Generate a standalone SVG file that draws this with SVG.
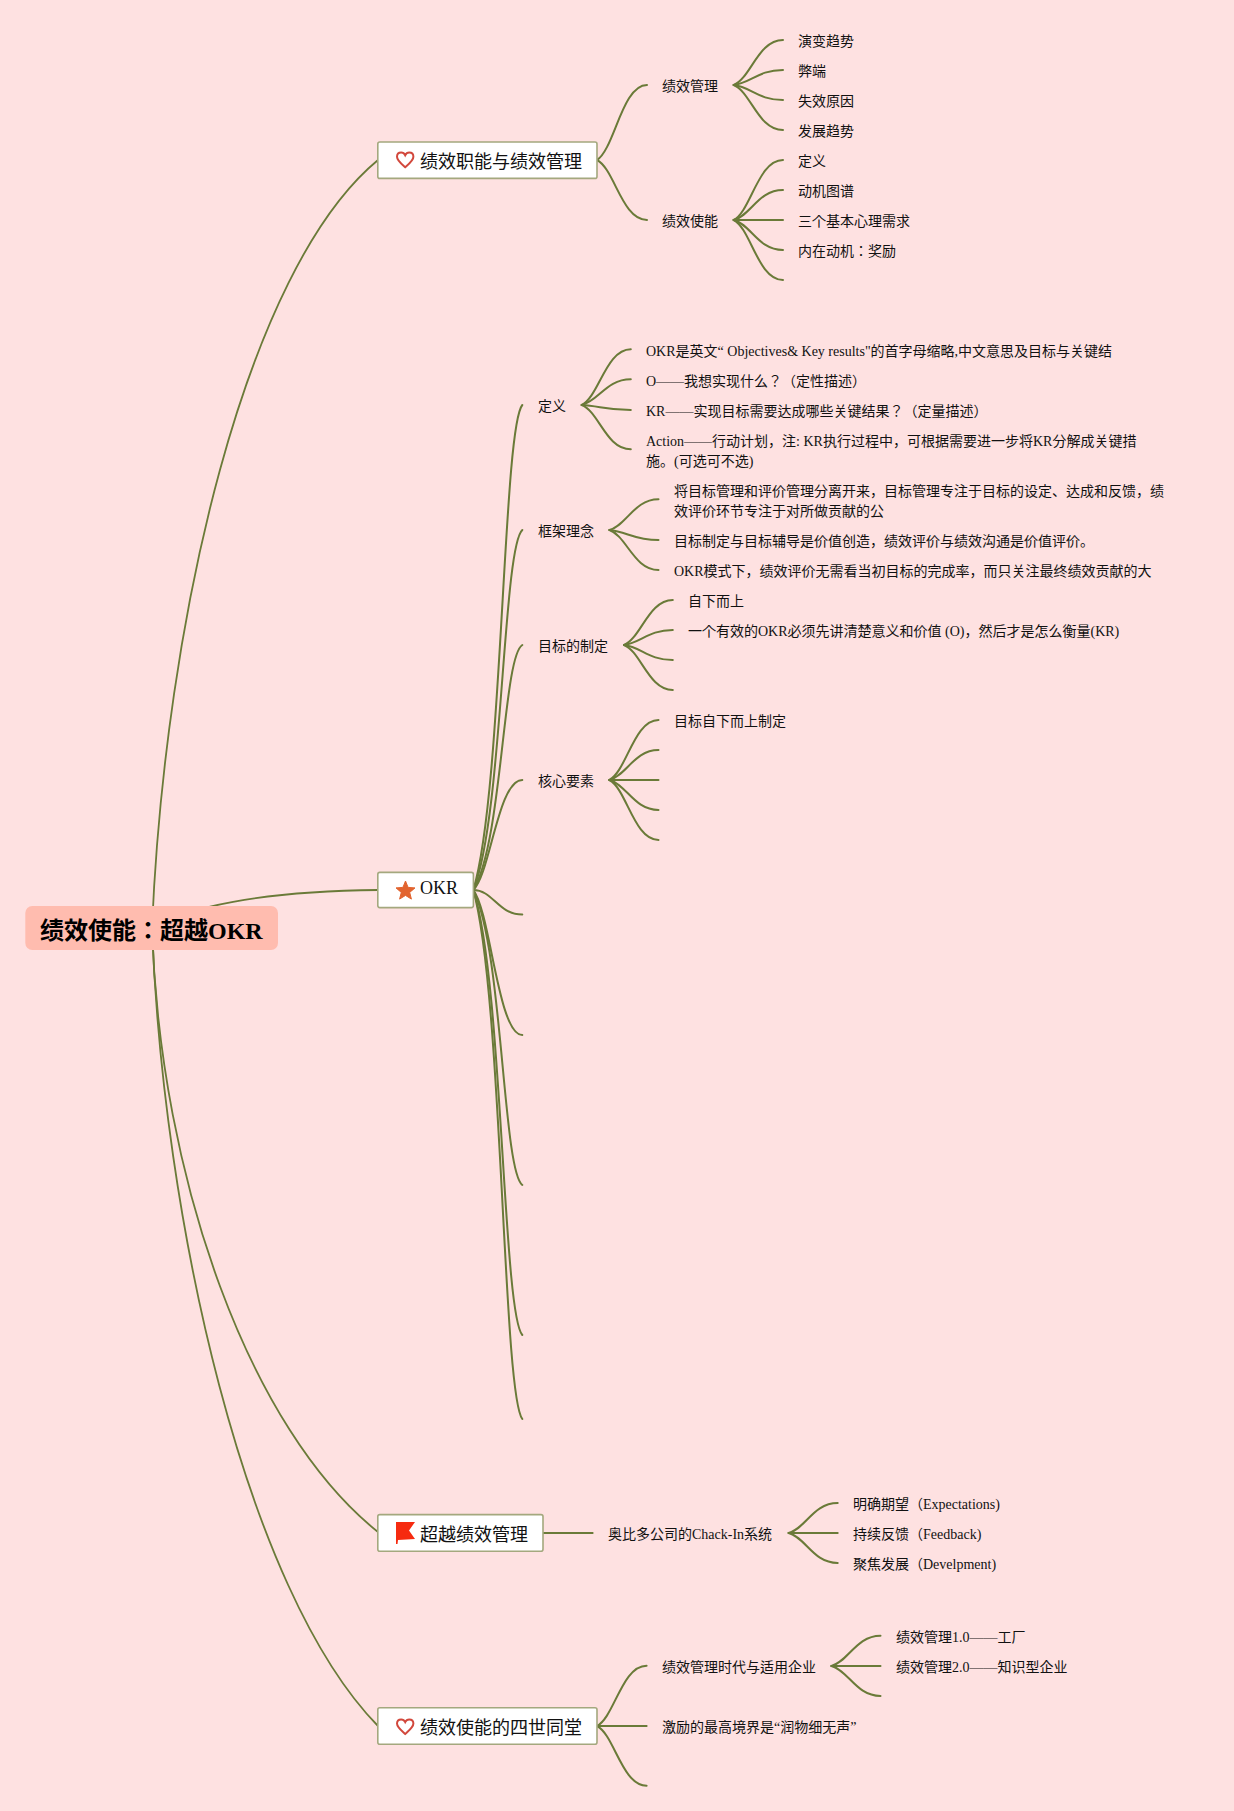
<svg xmlns="http://www.w3.org/2000/svg" width="1234" height="1811" viewBox="0 0 1234 1811">
<style>
text{font-family:"Liberation Serif","Noto Sans CJK JP",serif;fill:#111;font-size:14px}
.root{font-size:24px;font-weight:bold;fill:#000}
.main{font-size:18px}
.box{fill:#fff;stroke:#a4a87e;stroke-width:1.6}
#connectors path{fill:none;stroke:#6a7a38;stroke-width:2;stroke-linecap:round}
#connectors .r{stroke-width:1.8}
.heart{fill:#fff;stroke:#d2483c;stroke-width:2}
</style>
<rect width="1234" height="1811" fill="#fee1e1"/>
<g id="connectors">
<path class="r" d="M152 928C165 620 245 270 378 160"/>
<path class="r" d="M152 928C185 908 260 891 378 890"/>
<path class="r" d="M152 928C160 1180 250 1430 378 1532"/>
<path class="r" d="M152 928C163 1220 245 1590 378 1726"/>
<path d="M597 160C614.5 149 622 85 647 85"/>
<path d="M597 160C614.5 169 622 220 647 220"/>
<path d="M733.7 85C751 78 758 40 783 40"/>
<path d="M733.7 85C751 83 758 70 783 70"/>
<path d="M733.7 85C751 87 758 100 783 100"/>
<path d="M733.7 85C751 92 758 130 783 130"/>
<path d="M733.7 220C751 211 758 160 783 160"/>
<path d="M733.7 220C751 215.5 758 190 783 190"/>
<path d="M733.7 220H783"/>
<path d="M733.7 220C751 224.5 758 250 783 250"/>
<path d="M733.7 220C751 229 758 280 783 280"/>
<path d="M473.3 890C502.7 793 502.7 429 522.3 405"/>
<path d="M473.3 890C502.7 818 502.7 548 522.3 530"/>
<path d="M473.3 890C502.7 841 502.7 657 522.3 645"/>
<path d="M473.3 890C490.5 873.5 498 780 522.3 780"/>
<path d="M473.3 890C493 890 498 914.6 522.3 914.6"/>
<path d="M473.3 890C490.5 912 498 1035 522.3 1035"/>
<path d="M473.3 890C502.7 949 502.7 1170 522.3 1185"/>
<path d="M473.3 890C502.7 979 502.7 1313 522.3 1335"/>
<path d="M473.3 890C502.7 996 502.7 1392.5 522.3 1419"/>
<path d="M581.7 405C599 396.6 606 349.3 630.8 349.3"/>
<path d="M581.7 405C599 401 606 379.3 630.8 379.3"/>
<path d="M581.7 405C599 405.8 606 410 630.8 410"/>
<path d="M581.7 405C599 411.6 606 449.3 630.8 449.3"/>
<path d="M609.4 530C626.6 525.4 634 499.3 658.5 499.3"/>
<path d="M609.4 530C626.6 531.5 634 540 658.5 540"/>
<path d="M609.4 530C626.6 536 634 570 658.5 570"/>
<path d="M624 645C641 638 648.5 600 672.8 600"/>
<path d="M624 645C641 642.7 648.5 630 672.8 630"/>
<path d="M624 645C641 647 648.5 660 672.8 660"/>
<path d="M624 645C641 651.7 648.5 690 672.8 690"/>
<path d="M609.4 780C626.6 771 634 720 658.5 720"/>
<path d="M609.4 780C626.6 775.5 634 750 658.5 750"/>
<path d="M609.4 780H658.5"/>
<path d="M609.4 780C626.6 784.5 634 810 658.5 810"/>
<path d="M609.4 780C626.6 789 634 840 658.5 840"/>
<path d="M543 1533H592.6"/>
<path d="M788.6 1533C805.8 1528.5 813 1503 837.7 1503"/>
<path d="M788.6 1533H837.7"/>
<path d="M788.6 1533C805.8 1537.5 813 1563 837.7 1563"/>
<path d="M597 1726C614.4 1717 622 1665.7 646.6 1665.7"/>
<path d="M597 1726H646.6"/>
<path d="M597 1726C614.4 1735 622 1785.7 646.6 1785.7"/>
<path d="M831.4 1666C848.6 1661.5 856 1635.7 880.5 1635.7"/>
<path d="M831.4 1666H880.5"/>
<path d="M831.4 1666C848.6 1670.5 856 1696 880.5 1696"/>
</g>
<g id="root"><rect x="25.3" y="906" width="252.7" height="44" rx="7" fill="#ffbcaf"/><text class="root" x="40" y="938.5">绩效使能：超越OKR</text></g>
<g id="n1"><rect class="box" x="377.8" y="142" width="219.2" height="36.4" rx="2"/>
<path class="heart" d="M405.2 167.2C401 163.5 397 160.5 397 156.8C397 154 399 152.6 401.2 152.6C403 152.6 404.4 153.6 405.2 155.2C406 153.6 407.4 152.6 409.2 152.6C411.4 152.6 413.4 154 413.4 156.8C413.4 160.5 409.4 163.5 405.2 167.2Z"/>
<text class="main" x="420" y="168">绩效职能与绩效管理</text></g>
<g id="n1a"><text x="662" y="91">绩效管理</text></g>
<g id="n1a1"><text x="798" y="46">演变趋势</text></g>
<g id="n1a2"><text x="798" y="76">弊端</text></g>
<g id="n1a3"><text x="798" y="106">失效原因</text></g>
<g id="n1a4"><text x="798" y="136">发展趋势</text></g>
<g id="n1b"><text x="662" y="226">绩效使能</text></g>
<g id="n1b1"><text x="798" y="166">定义</text></g>
<g id="n1b2"><text x="798" y="196">动机图谱</text></g>
<g id="n1b3"><text x="798" y="226">三个基本心理需求</text></g>
<g id="n1b4"><text x="798" y="256">内在动机：奖励</text></g>
<g id="n2"><rect class="box" x="377.8" y="872.4" width="95.6" height="35.2" rx="2"/>
<polygon points="405.5,881 408.1,887.4 415,887.9 409.7,892.4 411.4,899.1 405.5,895.4 399.6,899.1 401.3,892.4 396,887.9 402.9,887.4" fill="#e2642f" stroke="#e2642f" stroke-width="1" stroke-linejoin="round"/>
<text class="main" x="420" y="894">OKR</text></g>
<g id="n2a"><text x="538" y="410.5">定义</text></g>
<g id="n2a1"><text x="646" y="356">OKR是英文“ Objectives&amp; Key results"的首字母缩略,中文意思及目标与关键结</text></g>
<g id="n2a2"><text x="646" y="386">O——我想实现什么？（定性描述）</text></g>
<g id="n2a3"><text x="646" y="416">KR——实现目标需要达成哪些关键结果？（定量描述）</text></g>
<g id="n2a4"><text x="646" y="446">Action——行动计划，注: KR执行过程中，可根据需要进一步将KR分解成关键措</text><text x="646" y="465.5">施。(可选可不选)</text></g>
<g id="n2b"><text x="538" y="536">框架理念</text></g>
<g id="n2b1"><text x="674" y="496">将目标管理和评价管理分离开来，目标管理专注于目标的设定、达成和反馈，绩</text><text x="674" y="516">效评价环节专注于对所做贡献的公</text></g>
<g id="n2b2"><text x="674" y="546">目标制定与目标辅导是价值创造，绩效评价与绩效沟通是价值评价。</text></g>
<g id="n2b3"><text x="674" y="576">OKR模式下，绩效评价无需看当初目标的完成率，而只关注最终绩效贡献的大</text></g>
<g id="n2c"><text x="538" y="651">目标的制定</text></g>
<g id="n2c1"><text x="688" y="606">自下而上</text></g>
<g id="n2c2"><text x="688" y="636">一个有效的OKR必须先讲清楚意义和价值 (O)，然后才是怎么衡量(KR)</text></g>
<g id="n2d"><text x="538" y="786">核心要素</text></g>
<g id="n2d1"><text x="674" y="726">目标自下而上制定</text></g>
<g id="n3"><rect class="box" x="377.8" y="1514.6" width="165.2" height="36.6" rx="2"/>
<path d="M396 1522H415L409 1530.5L415 1539L398 1540L397.5 1544H396Z" fill="#f62b10"/>
<text class="main" x="420" y="1541">超越绩效管理</text></g>
<g id="n3a"><text x="608" y="1539">奥比多公司的Chack-In系统</text></g>
<g id="n3a1"><text x="853" y="1509">明确期望（Expectations)</text></g>
<g id="n3a2"><text x="853" y="1539">持续反馈（Feedback)</text></g>
<g id="n3a3"><text x="853" y="1569">聚焦发展（Develpment)</text></g>
<g id="n4"><rect class="box" x="377.8" y="1707.8" width="219.2" height="36.4" rx="2"/>
<path class="heart" d="M405.2 1734C401 1730.3 397 1727.3 397 1723.6C397 1720.8 399 1719.4 401.2 1719.4C403 1719.4 404.4 1720.4 405.2 1722C406 1720.4 407.4 1719.4 409.2 1719.4C411.4 1719.4 413.4 1720.8 413.4 1723.6C413.4 1727.3 409.4 1730.3 405.2 1734Z"/>
<text class="main" x="420" y="1734">绩效使能的四世同堂</text></g>
<g id="n4a"><text x="662" y="1672">绩效管理时代与适用企业</text></g>
<g id="n4a1"><text x="896" y="1642">绩效管理1.0——工厂</text></g>
<g id="n4a2"><text x="896" y="1672">绩效管理2.0——知识型企业</text></g>
<g id="n4b"><text x="662" y="1732">激励的最高境界是“润物细无声”</text></g>
</svg>
